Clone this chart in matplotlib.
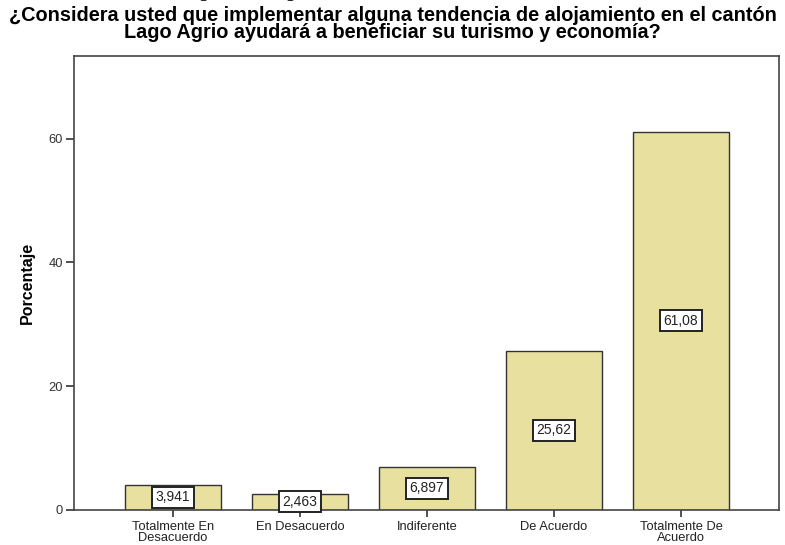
import matplotlib.pyplot as plt
import numpy as np

# Data
categories = ["Totalmente En\nDesacuerdo", "En Desacuerdo", "Indiferente",
              "De Acuerdo", "Totalmente De\nAcuerdo"]
percentages = [3.941, 2.463, 6.897, 25.62, 61.08]
value_labels = ["3,941", "2,463", "6,897", "25,62", "61,08"]
yticks = [0, 20, 40, 60]

plt.rcParams['font.family'] = ['Liberation Sans', 'DejaVu Sans']

fig = plt.figure(figsize=(7.85, 5.45), dpi=100)
ax = fig.add_axes([0.0943, 0.065, 0.8977, 0.832])

x = np.arange(len(categories))
ax.bar(x, percentages, width=0.756, color='#E8E09E', edgecolor='#333333', linewidth=1.0, zorder=2)

# value boxes in the middle of each bar
for xi, v, lab in zip(x, percentages, value_labels):
    ax.text(xi, v / 2, lab, ha='center', va='center', fontsize=10, color='#222222',
            bbox=dict(boxstyle='square,pad=0.25', facecolor='white', edgecolor='#222222', linewidth=1.4),
            zorder=3)

ax.set_xlim(-0.78, 4.77)
ax.set_ylim(0, 73.4)
ax.set_xticks(x)
ax.set_xticklabels(categories, fontsize=9.3, linespacing=0.95, color='#222222')
ax.set_yticks(yticks)
ax.set_yticklabels([str(t) for t in yticks], fontsize=9.3, color='#333333')
ax.tick_params(axis='y', length=6, width=1.2, color='#333333', pad=2)
ax.tick_params(axis='x', length=5, width=1.2, color='#333333', pad=3)
ax.set_ylabel("Porcentaje", fontsize=11.5, fontweight='bold', labelpad=10)

for side in ax.spines:
    ax.spines[side].set_linewidth(1.2)
    ax.spines[side].set_color('#444444')

fig.text(0.5, 0.956, "¿Considera usted que implementar alguna tendencia de alojamiento en el cantón\n"
         "Lago Agrio ayudará a beneficiar su turismo y economía?",
         ha='center', va='center', fontsize=14.3, fontweight='bold', linespacing=0.93)

# caption line cut off at the top of the image
fig.text(0.34, 1.013, "Figura 16. Pregunta 16", ha='center', va='center',
         fontsize=12, fontweight='bold', family='Liberation Serif')

fig.savefig("out.png", dpi=100)
